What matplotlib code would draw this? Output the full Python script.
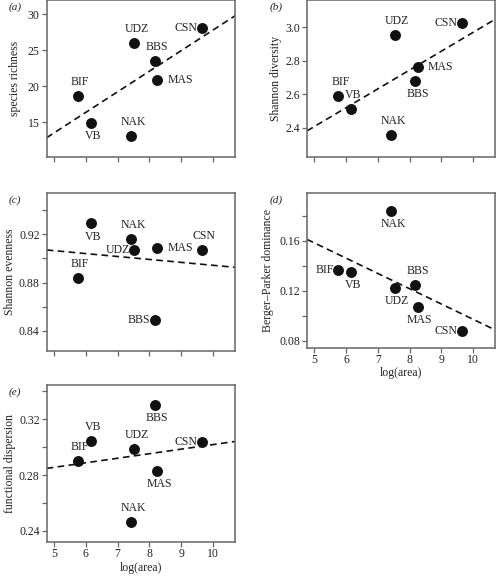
import matplotlib
matplotlib.use('Agg')
import matplotlib.pyplot as plt

plt.rcParams['font.family'] = ['Liberation Serif', 'DejaVu Serif']

sites = ['BIF', 'VB', 'NAK', 'UDZ', 'BBS', 'MAS', 'CSN']
log_area = [5.76, 6.15, 7.43, 7.53, 8.18, 8.25, 9.66]

richness = [18.7, 14.9, 13.1, 26.0, 23.5, 20.9, 28.0]
diversity = [2.591, 2.513, 2.356, 2.956, 2.681, 2.761, 3.024]
evenness = [0.884, 0.929, 0.916, 0.907, 0.849, 0.909, 0.907]
dominance = [0.1365, 0.1352, 0.1837, 0.1219, 0.1248, 0.1067, 0.0877]
fdis = [0.2899, 0.3047, 0.2467, 0.299, 0.3305, 0.283, 0.3038]

# fitted lines (slope, intercept)
fit_slope = [2.85, 0.1125, -0.00243, -0.01222, 0.00326]
fit_intercept = [-0.72, 1.8445, 0.9186, 0.2193, 0.2693]

ylabels = ['species richness', 'Shannon diversity', 'Shannon evenness',
           'Berger\u2013Parker dominance', 'functional dispersion']
letters = ['a', 'b', 'c', 'd', 'e']
values = [richness, diversity, evenness, dominance, fdis]

# layout (figure fractions), y limits, ticks
boxes = [[0.0942, 0.7280, 0.3802, 0.2720],
         [0.6190, 0.7274, 0.3796, 0.2726],
         [0.0942, 0.3906, 0.3802, 0.2748],
         [0.6190, 0.3964, 0.3796, 0.2681],
         [0.0942, 0.0590, 0.3802, 0.2726]]
ylab_x = [-0.138, -0.132, -0.165, -0.175, -0.165]
ylims = [(10.24, 31.94), (2.225, 3.163), (0.8232, 0.9545), (0.0744, 0.1979), (0.2321, 0.3446)]
yticks = [[15, 20, 25, 30],
          [2.4, 2.6, 2.8, 3.0],
          [0.84, 0.86, 0.88, 0.90, 0.92, 0.94],
          [0.08, 0.10, 0.12, 0.14, 0.16, 0.18],
          [0.24, 0.26, 0.28, 0.30, 0.32, 0.34]]
yticklabels = [['15', '20', '25', '30'],
               ['2.4', '2.6', '2.8', '3.0'],
               ['0.84', '', '0.88', '', '0.92', ''],
               ['0.08', '', '0.12', '', '0.16', ''],
               ['0.24', '', '0.28', '', '0.32', '']]

# where each site label sits relative to its point
label_pos = [
    ['above', 'below', 'above', 'above', 'above', 'right', 'left'],
    ['above', 'above', 'above', 'above', 'below', 'right', 'left'],
    ['above', 'below', 'above', 'left', 'left', 'right', 'above'],
    ['left', 'below', 'below', 'below', 'above', 'below', 'left'],
    ['above', 'above', 'above', 'above', 'below', 'below', 'left'],
]
offsets = {'above': ((1.5, 10), 'center', 'center'),
           'below': ((1.5, -9.5), 'center', 'center'),
           'left': ((-3.5, 0), 'right', 'center'),
           'right': ((7.5, 0), 'left', 'center')}

spine_col = '#666666'
fs = 8.5

fig = plt.figure(figsize=(4.96, 5.76), dpi=100)

for i in range(5):
    ax = fig.add_axes(boxes[i])
    ax.set_xlim(4.77, 10.70)
    ax.set_ylim(*ylims[i])

    ax.axline((0, fit_intercept[i]), slope=fit_slope[i], color='#111111',
              lw=1.2, ls=(0, (4, 2.6)), zorder=2)
    ax.scatter(log_area, values[i], s=62, color='#111111', zorder=3, linewidths=0)

    for j, site in enumerate(sites):
        off, ha, va = offsets[label_pos[i][j]]
        ax.annotate(site, (log_area[j], values[i][j]), xytext=off,
                    textcoords='offset points', ha=ha, va=va, fontsize=fs,
                    color='#222222', zorder=4)

    ax.set_yticks(yticks[i])
    ax.set_yticklabels(yticklabels[i])
    ax.set_xticks([5, 6, 7, 8, 9, 10])
    if i >= 3:
        ax.set_xticklabels(['5', '6', '7', '8', '9', '10'])
        ax.set_xlabel('log(area)', fontsize=fs, color='#222222', labelpad=1)
    else:
        ax.set_xticklabels([])

    ax.tick_params(direction='out', length=3.6, width=0.9, color=spine_col,
                   labelsize=fs, labelcolor='#222222', pad=1)
    ax.tick_params(axis='y', pad=1.5)
    for sp in ax.spines.values():
        sp.set_color(spine_col)
        sp.set_linewidth(1.1)

    ax.set_ylabel(ylabels[i], fontsize=fs, color='#222222')
    ax.yaxis.set_label_coords(ylab_x[i], 0.5)

    ax.text(-0.2, 0.955, '(' + letters[i] + ')', transform=ax.transAxes,
            fontsize=8, style='italic', color='#222222', ha='left', va='center')

fig.savefig('out.png', dpi=100)
